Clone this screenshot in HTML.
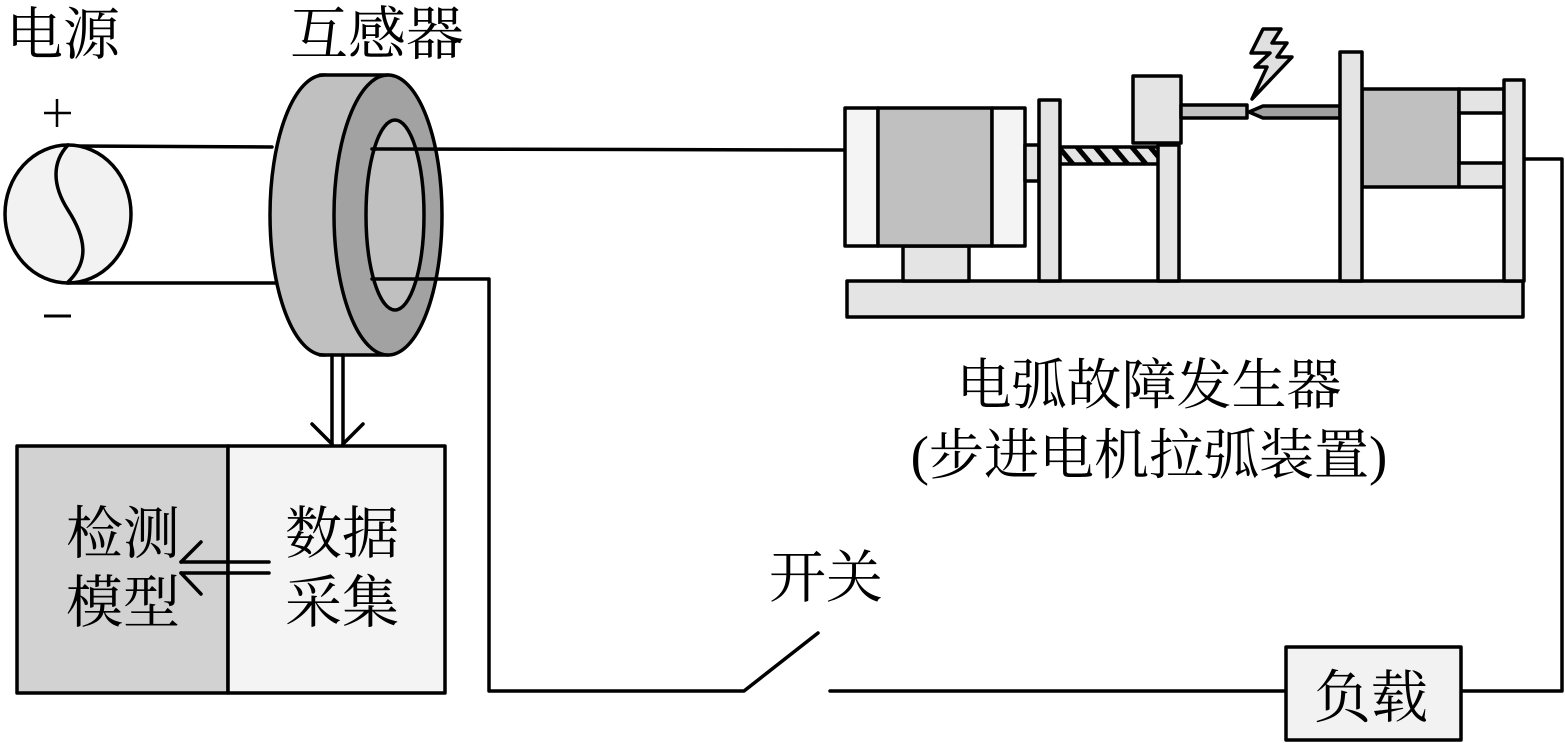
<!DOCTYPE html>
<html><head><meta charset="utf-8"><style>
html,body{margin:0;padding:0;background:#fff;}
svg{display:block;}
text{font-family:"Liberation Serif","Noto Serif CJK SC","Noto Serif CJK JP","Noto Serif SC",serif;fill:#000;}
</style></head><body>
<svg width="1565" height="743" viewBox="0 0 1565 743" xmlns="http://www.w3.org/2000/svg">
<defs>
<pattern id="hatch" patternUnits="userSpaceOnUse" width="14" height="14" patternTransform="rotate(-40)">
<rect width="14" height="14" fill="#e4e4e4"/>
<rect x="0" y="0" width="5" height="14" fill="#000"/>
</pattern>
</defs>
<g stroke="#000" stroke-width="3.5" stroke-linejoin="round" stroke-linecap="round">
<line x1="68" y1="146" x2="272" y2="147" fill="none"/>
<line x1="68" y1="283" x2="277" y2="283" fill="none"/>
<ellipse cx="68" cy="214" rx="63" ry="69" fill="#f2f2f2"/>
<path d="M68,145 C52,162 52,185 68,210 C86,238 90,262 67,283" fill="none"/>
<ellipse cx="324" cy="215" rx="54" ry="140" fill="#c0c0c0"/>
<rect x="324" y="75" width="64" height="280" fill="#c0c0c0" stroke="none"/>
<line x1="320" y1="75" x2="388" y2="75"/>
<line x1="320" y1="355" x2="388" y2="355"/>
<ellipse cx="388" cy="215" rx="54" ry="140" fill="#a2a2a2"/>
<ellipse cx="395" cy="215" rx="29" ry="95" fill="#c0c0c0"/>
<line x1="372" y1="149" x2="845" y2="150" fill="none"/>
<polyline points="372,279 489,279 489,691 744,691 818,633" fill="none"/>
<polyline points="830,691 1286,691" fill="none"/>
<polyline points="1461,691 1562,691 1562,159 1524,159" fill="none"/>
<line x1="332" y1="355" x2="332" y2="445"/>
<line x1="343" y1="355" x2="343" y2="445"/>
<line x1="312" y1="424" x2="332" y2="444"/>
<line x1="363" y1="424" x2="343" y2="444"/>
<rect x="17" y="446" width="211" height="247" fill="#d2d2d2"/>
<rect x="228" y="446" width="217" height="247" fill="#f4f4f4"/>
<line x1="181" y1="562" x2="269" y2="562"/>
<line x1="181" y1="573" x2="269" y2="573"/>
<line x1="201" y1="542" x2="181" y2="562"/>
<line x1="201" y1="594" x2="181" y2="573"/>
<rect x="1286" y="647" width="175" height="93" fill="#f2f2f2"/>
<rect x="847" y="281" width="676" height="36" fill="#e4e4e4"/>
<rect x="903" y="246" width="66" height="35" fill="#e4e4e4"/>
<rect x="845" y="108" width="33" height="138" fill="#f4f4f4"/>
<rect x="878" y="108" width="114" height="138" fill="#c0c0c0"/>
<rect x="992" y="108" width="33" height="138" fill="#f4f4f4"/>
<rect x="1025" y="145" width="14" height="36" fill="#e4e4e4"/>
<rect x="1060" y="147" width="100" height="17" fill="url(#hatch)"/>
<rect x="1039" y="100" width="21" height="181" fill="#e4e4e4"/>
<rect x="1158" y="145" width="21" height="136" fill="#e4e4e4"/>
<rect x="1133" y="76" width="48" height="67" fill="#e4e4e4"/>
<rect x="1181" y="105" width="66" height="13" fill="#c4c4c4"/>
<polygon points="1249,112 1263,106 1340,106 1340,118 1263,118" fill="#a0a0a0"/>
<polygon points="1263,29 1281,29 1272,43 1287,43 1277,57 1292,57 1252,99 1267,67 1255,67 1270,53 1251,53" fill="#e0e0e0"/>
<rect x="1362" y="89" width="97" height="98" fill="#c0c0c0"/>
<rect x="1459" y="89" width="45" height="24" fill="#e4e4e4"/>
<rect x="1459" y="163" width="45" height="24" fill="#e4e4e4"/>
<line x1="1459" y1="113" x2="1459" y2="163"/>
<rect x="1340" y="52" width="22" height="229" fill="#e4e4e4"/>
<rect x="1504" y="80" width="20" height="201" fill="#e4e4e4"/>
<line x1="44" y1="113" x2="71" y2="113" stroke-width="2.5" stroke-linecap="butt"/>
<line x1="57" y1="99" x2="57" y2="127" stroke-width="2.5" stroke-linecap="butt"/>
<line x1="44" y1="316" x2="71" y2="316" stroke-width="3" stroke-linecap="butt"/>
</g>
<text x="6" y="54" font-size="57">电源</text>
<text x="290" y="54" font-size="58">互感器</text>
<text x="1149" y="404" font-size="55" text-anchor="middle">电弧故障发生器</text>
<text x="1149" y="474" font-size="55" text-anchor="middle">(步进电机拉弧装置)</text>
<text x="66" y="553" font-size="57">检测</text>
<text x="66" y="622" font-size="57">模型</text>
<text x="285" y="553" font-size="57">数据</text>
<text x="285" y="622" font-size="57">采集</text>
<text x="769" y="597" font-size="57">开关</text>
<text x="1314" y="717" font-size="57">负载</text>
</svg>
</body></html>
